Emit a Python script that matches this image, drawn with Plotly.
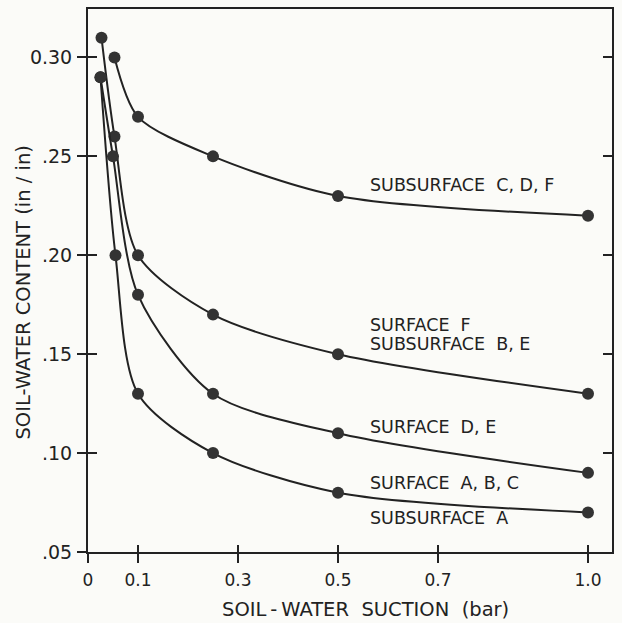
import plotly.graph_objects as go

# ---- data ----
suction_cdf = [0.053, 0.1, 0.25, 0.5, 1.0]
content_cdf = [0.30, 0.27, 0.25, 0.23, 0.22]

suction_f = [0.027, 0.053, 0.1, 0.25, 0.5, 1.0]
content_f = [0.31, 0.26, 0.20, 0.17, 0.15, 0.13]

suction_de = [0.025, 0.05, 0.1, 0.25, 0.5, 1.0]
content_de = [0.29, 0.25, 0.18, 0.13, 0.11, 0.09]

suction_abc = [0.025, 0.055, 0.1, 0.25, 0.5, 1.0]
content_abc = [0.29, 0.20, 0.13, 0.10, 0.08, 0.07]

x_tickvals = [0, 0.1, 0.3, 0.5, 0.7, 1.0]
x_ticktext = ["0", "0.1", "0.3", "0.5", "0.7", "1.0"]
y_tickvals = [0.05, 0.10, 0.15, 0.20, 0.25, 0.30]
y_ticktext = [".05", ".10", ".15", ".20", ".25", "0.30"]

labels = [
    ("SUBSURFACE\u00a0 C, D, F", 0.2355),
    ("SURFACE\u00a0 F", 0.165),
    ("SUBSURFACE\u00a0 B, E", 0.155),
    ("SURFACE\u00a0 D, E", 0.1132),
    ("SURFACE\u00a0 A, B, C", 0.085),
    ("SUBSURFACE\u00a0 A", 0.0674),
]

INK = "#222222"
BG = "#fbfbf8"
FONT = "DejaVu Sans"
XR = [0, 1.048]
YR = [0.05, 0.3245]

fig = go.Figure()
for xs, ys in [(suction_cdf, content_cdf), (suction_f, content_f),
               (suction_de, content_de), (suction_abc, content_abc)]:
    fig.add_trace(go.Scatter(
        x=xs, y=ys, mode="lines+markers",
        line=dict(color=INK, width=2, shape="spline", smoothing=0.8),
        marker=dict(size=12, color="#333333", line=dict(width=0)),
        showlegend=False, hoverinfo="skip",
    ))

annotations = []
for text, yv in labels:
    annotations.append(dict(
        x=0.56, y=yv, xref="x", yref="y", text=text, showarrow=False,
        xanchor="left", yanchor="middle",
        font=dict(family=FONT, size=17.5, color=INK),
    ))
annotations.append(dict(
    x=-0.123, y=0.477, xref="paper", yref="paper", text="SOIL-WATER CONTENT (in / in)",
    showarrow=False, textangle=-90, font=dict(family=FONT, size=19.5, color=INK),
    xanchor="center", yanchor="middle",
))
annotations.append(dict(
    x=0.529, y=-0.106, xref="paper", yref="paper",
    text="SOIL\u2009-\u2009WATER\u00a0 SUCTION\u00a0 (bar)",
    showarrow=False, font=dict(family=FONT, size=19.5, color=INK),
    xanchor="center", yanchor="middle",
))

axis_common = dict(showgrid=False, zeroline=False)
fig.update_layout(
    width=622, height=623,
    margin=dict(l=87.5, r=10, t=7, b=71),
    paper_bgcolor=BG, plot_bgcolor=BG,
    font=dict(family=FONT, size=16, color=INK),
    annotations=annotations,
    xaxis=dict(range=XR, tickvals=x_tickvals, ticktext=x_ticktext,
               ticks="outside", ticklen=9, tickwidth=2, tickcolor=INK,
               showline=True, linewidth=2, linecolor=INK, mirror=True,
               ticklabelstandoff=3,
               tickfont=dict(family=FONT, size=17, color=INK), **axis_common),
    yaxis=dict(range=YR, tickvals=y_tickvals, ticktext=y_ticktext,
               ticks="outside", ticklen=9, tickwidth=2, tickcolor=INK,
               showline=True, linewidth=2, linecolor=INK, mirror=True,
               ticklabelstandoff=1,
               tickfont=dict(family=FONT, size=19, color=INK), **axis_common),
    xaxis2=dict(range=XR, overlaying="x", anchor="y", side="bottom",
                tickvals=x_tickvals, showticklabels=False,
                ticks="inside", ticklen=7, tickwidth=2, tickcolor=INK,
                showline=False, **axis_common),
    yaxis2=dict(range=YR, overlaying="y", anchor="x", side="left",
                tickvals=y_tickvals, showticklabels=False,
                ticks="inside", ticklen=9, tickwidth=2, tickcolor=INK,
                showline=False, **axis_common),
    yaxis3=dict(range=YR, overlaying="y", anchor="x", side="right",
                tickvals=y_tickvals, showticklabels=False,
                ticks="inside", ticklen=9, tickwidth=2, tickcolor=INK,
                showline=False, **axis_common),
)
# invisible traces to activate overlay axes
fig.add_trace(go.Scatter(x=[None], y=[None], xaxis="x2", yaxis="y2", showlegend=False))
fig.add_trace(go.Scatter(x=[None], y=[None], xaxis="x", yaxis="y3", showlegend=False))

fig.write_html("out.html")
